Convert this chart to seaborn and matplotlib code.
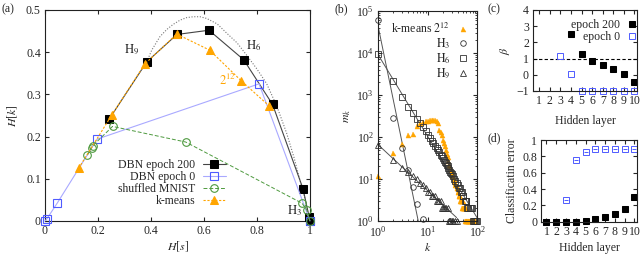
import numpy as np
import pandas as pd
import matplotlib
matplotlib.use("Agg")
import matplotlib.pyplot as plt
import seaborn as sns
from matplotlib.ticker import LogLocator, NullFormatter

# ---- (a) H[k] vs H[s]
hs_200 = [0.243, 0.384, 0.498, 0.619, 0.750, 0.859, 0.974, 0.997, 1.0]
hk_200 = [0.242, 0.377, 0.442, 0.452, 0.382, 0.276, 0.076, 0.009, 0.0]
hs_0 = [0.0, 0.006, 0.047, 0.197, 0.808, 1.0]
hk_0 = [0.0, 0.004, 0.043, 0.194, 0.325, 0.0]
hs_shuf = [0.160, 0.176, 0.180, 0.255, 0.531, 0.970, 0.988, 1.0]
hk_shuf = [0.156, 0.174, 0.178, 0.224, 0.187, 0.042, 0.026, 0.0]
hs_km = [0.127, 0.252, 0.377, 0.497, 0.621, 0.741, 0.847]
hk_km = [0.125, 0.251, 0.372, 0.443, 0.405, 0.332, 0.272]
hs_bound = [0.384, 0.403, 0.434, 0.460, 0.484, 0.510, 0.535, 0.560, 0.585, 0.610, 0.650,
            0.686, 0.725, 0.761, 0.800, 0.836, 0.875, 0.912, 0.940, 0.962, 0.980, 0.994, 1.0]
hk_bound = [0.377, 0.405, 0.437, 0.454, 0.466, 0.476, 0.482, 0.484, 0.484, 0.480, 0.467,
            0.445, 0.422, 0.393, 0.360, 0.326, 0.272, 0.208, 0.150, 0.097, 0.055, 0.018, 0.0]

# ---- (b) m_k vs k
k_km = list(range(1, 61)) + [62, 64, 66, 68, 70, 72, 74, 76, 78, 80, 82, 85, 88, 90]
m_km = [12, 42, 68, 110, 120, 180, 215, 230, 240, 245, 250, 255, 260, 250, 240, 215, 150, 130,
        110, 85, 70, 60, 48, 40, 33, 27, 22, 19, 16, 14, 12, 11, 10, 9, 8, 7, 7, 6, 6, 5,
        5, 4, 4, 4, 3, 3, 3, 3, 2, 3, 2, 2, 2, 2, 2, 2, 1, 2, 1, 1,
        1, 1, 1, 1, 1, 1, 1, 1, 1, 1, 1, 1, 1, 1]
k_h3 = [1, 2, 3, 4, 5, 6, 8, 28]
m_h3 = [60000, 280, 55, 16, 6.5, 2.6, 1.1, 1]
k_h6 = list(range(1, 31)) + [32, 34, 36, 38, 40, 42, 44, 46, 48, 50, 52, 55, 58, 60, 63, 66,
                              70, 74, 78, 82, 86, 90, 95, 100]
m_h6 = [9300, 2150, 910, 525, 380, 270, 210, 170, 135, 113, 95, 80, 70, 62, 55, 48, 43, 38,
        35, 31, 28, 26, 24, 22, 20, 18, 16, 15, 14, 13, 12, 10, 9, 8, 7, 6, 6, 5, 5,
        4, 4, 3, 3, 3, 2, 2, 2, 2, 2, 1, 1, 1, 1, 1]
k_h9 = list(range(1, 24)) + [25, 27, 28, 30, 32, 35, 38]
m_h9 = [65, 28, 18, 15, 12, 10, 8, 7, 6, 5, 5, 4, 4, 4, 3, 3, 3, 3, 2, 2, 2, 2, 2,
        2, 1, 1, 1, 1, 1, 1]
fit_k3, fit_m3 = [1, 6.4], [42000, 1]
fit_k6, fit_m6 = [1, 98], [9000, 1.2]
fit_k9, fit_m9 = [1, 38], [65, 1.2]

# ---- (c) beta per hidden layer
layer_b200 = [4, 5, 6, 7, 8, 9, 10]
beta_200 = [2.51, 1.27, 0.86, 0.57, 0.36, 0.05, -0.44]
layer_b0 = [3, 4, 5, 6, 7, 8, 9, 10]
beta_0 = [1.15, 0.05, -1, -1, -1, -1, -1, -1]

# ---- (d) classification error
layers = list(range(1, 11))
err_0 = [0, 0, 0.265, 0.755, 0.85, 0.895, 0.895, 0.895, 0.895, 0.895]
err_200 = [0, 0, 0, 0.002, 0.012, 0.03, 0.057, 0.098, 0.155, 0.298]

BLUE = '#4f5bff'
BLUE_L = '#a9a9ff'
GREEN = '#4e9a3f'
ORANGE = '#ffa500'

sns.set_style("ticks")
plt.rcParams['font.family'] = ['Liberation Serif', 'DejaVu Serif']
plt.rcParams['mathtext.fontset'] = 'stix'
plt.rcParams['font.size'] = 8.5
plt.rcParams['axes.linewidth'] = 0.8
plt.rcParams['axes.edgecolor'] = '#222222'
plt.rcParams['xtick.direction'] = 'in'
plt.rcParams['ytick.direction'] = 'in'
plt.rcParams['xtick.top'] = True
plt.rcParams['ytick.right'] = True
plt.rcParams['xtick.major.size'] = 3
plt.rcParams['ytick.major.size'] = 3
plt.rcParams['xtick.minor.size'] = 1.5
plt.rcParams['ytick.minor.size'] = 1.5
plt.rcParams['xtick.major.pad'] = 3
plt.rcParams['ytick.major.pad'] = 3
plt.rcParams['legend.frameon'] = False

fig = plt.figure(figsize=(6.4, 2.56), dpi=100)
ax_a = fig.add_axes([0.0703, 0.137, 0.414, 0.824])
ax_b = fig.add_axes([0.591, 0.137, 0.155, 0.820])
ax_c = fig.add_axes([0.833, 0.645, 0.162, 0.316])
ax_d = fig.add_axes([0.846, 0.134, 0.149, 0.319])

# ---------- panel (a)
sns.lineplot(x=hs_bound, y=hk_bound, ax=ax_a, estimator=None, sort=False,
             color='#777777', lw=0.8, ls=(0, (1, 1.5)))
sns.lineplot(x=hs_200, y=hk_200, ax=ax_a, estimator=None, sort=False, color='#444444', lw=0.8,
             marker='s', markersize=5.5, markerfacecolor='k', markeredgecolor='k',
             label='DBN epoch 200', clip_on=False, zorder=4)
sns.lineplot(x=hs_0, y=hk_0, ax=ax_a, estimator=None, sort=False, color=BLUE_L, lw=0.8,
             marker='s', markersize=5.5, markerfacecolor='none', markeredgecolor=BLUE,
             markeredgewidth=0.8, label='DBN epoch 0', clip_on=False, zorder=4)
sns.lineplot(x=hs_shuf, y=hk_shuf, ax=ax_a, estimator=None, sort=False, color=GREEN, lw=0.7,
             ls=(0, (4, 2)), marker='o', markersize=5.5, markerfacecolor='none',
             markeredgecolor=GREEN, markeredgewidth=0.8, label='shuffled MNIST',
             clip_on=False, zorder=4)
sns.lineplot(x=hs_km, y=hk_km, ax=ax_a, estimator=None, sort=False, color=ORANGE, lw=0.8,
             ls=(0, (2, 1.5)), marker='^', markersize=6, markerfacecolor=ORANGE,
             markeredgecolor=ORANGE, label='k-means', clip_on=False, zorder=5)
ax_a.set_xlim(0, 1)
ax_a.set_ylim(0, 0.5)
ax_a.set_xticks([0, 0.2, 0.4, 0.6, 0.8, 1.0], ['0', '0.2', '0.4', '0.6', '0.8', '1'])
ax_a.set_yticks([0, 0.1, 0.2, 0.3, 0.4, 0.5], ['0', '0.1', '0.2', '0.3', '0.4', '0.5'])
ax_a.set_xlabel(r'$H[s]$', labelpad=2)
ax_a.set_ylabel(r'$H[k]$', labelpad=4)
ax_a.text(0.30, 0.397, r'$\mathrm{H}_9$', fontsize=9)
ax_a.text(0.76, 0.407, r'$\mathrm{H}_6$', fontsize=9)
ax_a.text(0.912, 0.016, r'$\mathrm{H}_3$', fontsize=9)
ax_a.text(0.655, 0.322, r'$2^{12}$', fontsize=9, color=ORANGE)
ax_a.legend(loc='lower right', bbox_to_anchor=(0.715, 0.025), markerfirst=False,
            handlelength=2.0, labelspacing=0.0, borderpad=0.2, handletextpad=0.6)

# ---------- panel (b)
ax_b.set_xscale('log')
ax_b.set_yscale('log')
for fk, fm in [(fit_k3, fit_m3), (fit_k6, fit_m6), (fit_k9, fit_m9)]:
    sns.lineplot(x=fk, y=fm, ax=ax_b, estimator=None, sort=False, color='#555555', lw=0.7)
sns.lineplot(x=k_km, y=m_km, ax=ax_b, estimator=None, lw=0, marker='^', markersize=3.6,
             markerfacecolor=ORANGE, markeredgecolor=ORANGE, markeredgewidth=0.3,
             label=r'k-means $2^{12}$', clip_on=False)
sns.lineplot(x=k_h3, y=m_h3, ax=ax_b, estimator=None, lw=0, marker='o', markersize=4,
             markerfacecolor='none', markeredgecolor='#333333', markeredgewidth=0.6,
             label=r'$\mathrm{H}_3$', clip_on=False)
sns.lineplot(x=k_h6, y=m_h6, ax=ax_b, estimator=None, lw=0, marker='s', markersize=4,
             markerfacecolor='none', markeredgecolor='#333333', markeredgewidth=0.6,
             label=r'$\mathrm{H}_6$', clip_on=False)
sns.lineplot(x=k_h9, y=m_h9, ax=ax_b, estimator=None, lw=0, marker='^', markersize=4,
             markerfacecolor='none', markeredgecolor='#333333', markeredgewidth=0.6,
             label=r'$\mathrm{H}_9$', clip_on=False)
ax_b.set_xlim(1, 100)
ax_b.set_ylim(1, 1e5)
ax_b.xaxis.set_minor_locator(LogLocator(subs=np.arange(2, 10)))
ax_b.yaxis.set_minor_locator(LogLocator(subs=np.arange(2, 10)))
ax_b.xaxis.set_minor_formatter(NullFormatter())
ax_b.yaxis.set_minor_formatter(NullFormatter())
ax_b.set_yticks([1, 10, 100, 1e3, 1e4, 1e5])
ax_b.set_xlabel(r'$k$', labelpad=2)
ax_b.set_ylabel(r'$m_k$', labelpad=2)
ax_b.legend(loc='upper right', bbox_to_anchor=(1.0, 0.99), markerfirst=False,
            handlelength=1.0, labelspacing=0.05, borderpad=0.2, handletextpad=0.6)

# ---------- panel (c)
ax_c.axhline(1, color='k', lw=0.8, ls=(0, (3, 2)))
sns.lineplot(x=layer_b200, y=beta_200, ax=ax_c, estimator=None, lw=0, marker='s',
             markersize=4, markerfacecolor='k', markeredgecolor='k', label='epoch 200',
             clip_on=False)
sns.lineplot(x=layer_b0, y=beta_0, ax=ax_c, estimator=None, lw=0, marker='s',
             markersize=4, markerfacecolor='none', markeredgecolor=BLUE,
             markeredgewidth=0.7, label='epoch 0', clip_on=False)
ax_c.set_xlim(0.43, 10.22)
ax_c.set_ylim(-1, 4)
ax_c.set_xticks(layers)
ax_c.set_yticks([-1, 0, 1, 2, 3, 4], ['\u22121', '0', '1', '2', '3', '4'])
ax_c.set_xlabel('Hidden layer', labelpad=6)
ax_c.set_ylabel(r'$\beta$', labelpad=3)
ax_c.legend(loc='upper right', bbox_to_anchor=(1.07, 0.98), markerfirst=False,
            handlelength=0.8, labelspacing=0.05, borderpad=0.1, handletextpad=0.6)

# ---------- panel (d)
sns.lineplot(x=layers, y=err_0, ax=ax_d, estimator=None, lw=0, marker='s', markersize=4,
             markerfacecolor='none', markeredgecolor=BLUE, markeredgewidth=0.7, clip_on=False)
sns.lineplot(x=layers, y=err_0, ax=ax_d, estimator=None, lw=0, marker='_', markersize=2.5,
             markeredgecolor=BLUE, markeredgewidth=0.7, clip_on=False)
sns.lineplot(x=layers, y=err_200, ax=ax_d, estimator=None, lw=0, marker='s', markersize=4,
             markerfacecolor='k', markeredgecolor='k', clip_on=False)
ax_d.set_xlim(0.49, 10.24)
ax_d.set_ylim(0, 1)
ax_d.set_xticks(layers)
ax_d.set_yticks([0, 0.2, 0.4, 0.6, 0.8, 1.0], ['0', '0.2', '0.4', '0.6', '0.8', '1'])
ax_d.set_xlabel('Hidden layer', labelpad=3)
ax_d.set_ylabel('Classificatin error', labelpad=3)

fig.text(0.003, 0.962, '(a)', fontsize=8.5, va='center')
fig.text(0.522, 0.962, '(b)', fontsize=8.5, va='center')
fig.text(0.762, 0.962, '(c)', fontsize=8.5, va='center')
fig.text(0.762, 0.46, '(d)', fontsize=8.5, va='center')

fig.savefig('out.png', dpi=100)
